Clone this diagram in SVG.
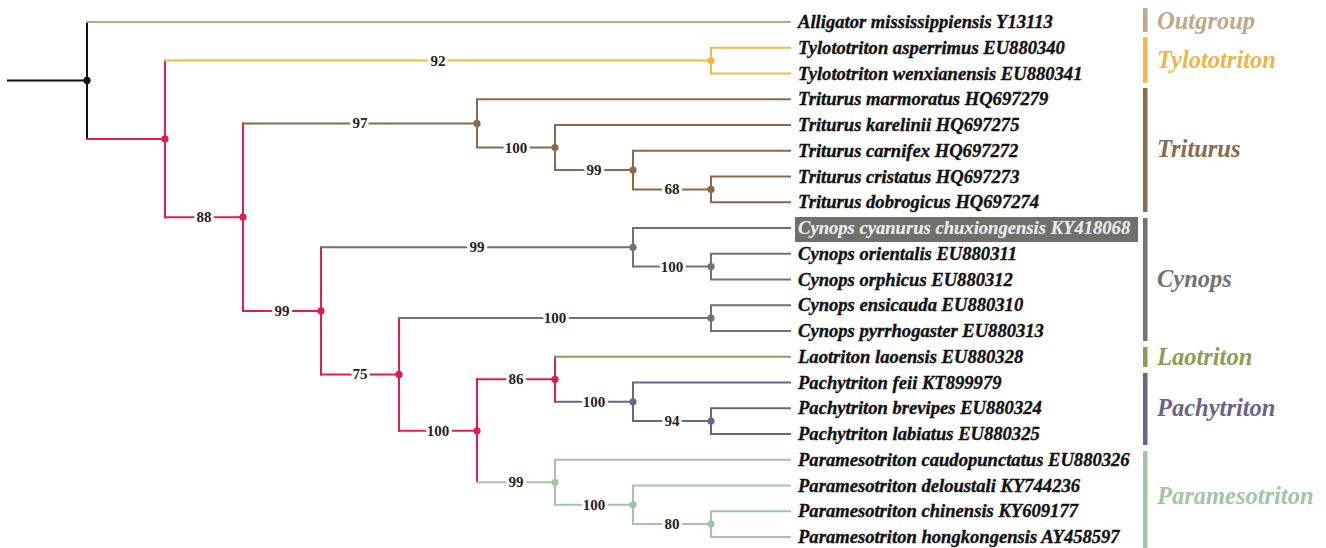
<svg xmlns="http://www.w3.org/2000/svg" width="1326" height="548" viewBox="0 0 1326 548">
<style>
.ln{fill:none;stroke-width:2;stroke-linecap:square}
.k{stroke:#111111}.og{stroke:#c4a788}.ty{stroke:#f0b949}.rd{stroke:#dc1f50}.tr{stroke:#8a6a4c}.cy{stroke:#727270}.la{stroke:#8c9b57}.pa{stroke:#6b6486}.pm{stroke:#a2c6a3}
.dk{fill:#111111}.dty{fill:#f0b949}.drd{fill:#dc1f50}.dtr{fill:#8a6a4c}.dcy{fill:#727270}.dpa{fill:#6b6486}.dpm{fill:#a2c6a3}
.leaf{font-family:"Liberation Serif","Times New Roman",serif;font-size:18.6px;font-weight:bold;font-style:italic;fill:#111111;stroke:#111111;stroke-width:0.35}
.bs{font-family:"Liberation Serif","Times New Roman",serif;font-size:15px;font-weight:bold;fill:#222222;text-anchor:middle;stroke:#ffffff;stroke-width:6;paint-order:stroke;stroke-linejoin:round}
.grp{font-family:"Liberation Serif","Times New Roman",serif;font-size:24.5px;font-weight:bold;font-style:italic}
</style>
<rect width="1326" height="548" fill="#ffffff"/>
<g id="connectors">
<path class="ln k" d="M8 80.4H87M87 22V138.9"/>
<path class="ln og" d="M87 22H790"/>
<path class="ln rd" d="M87 138.9H165M165 60.6V217.2"/>
<path class="ln ty" d="M165 60.6H711M711 47.75V73.5M711 47.75H790M711 73.5H790"/>
<path class="ln rd" d="M165 217.2H243M243 123.4V310.9"/>
<path class="ln tr" d="M243 123.4H477M477 99.25V147.5M477 99.25H790M477 147.5H555M555 125V170.1M555 125H790M555 170.1H633M633 150.75V189.4M633 150.75H790M633 189.4H711M711 176.5V202.25M711 176.5H790M711 202.25H790"/>
<path class="ln rd" d="M243 310.9H321M321 247.3V374.4"/>
<path class="ln cy" d="M321 247.3H633M633 228V266.6M633 228H790M633 266.6H711M711 253.75V279.5M711 253.75H790M711 279.5H790"/>
<path class="ln rd" d="M321 374.4H399M399 318.1V430.8"/>
<path class="ln cy" d="M399 318.1H711M711 305.25V331M711 305.25H790M711 331H790"/>
<path class="ln rd" d="M399 430.8H477M477 379.3V482.3"/>
<path class="ln rd" d="M477 379.3H555M555 356.75V401.8"/>
<path class="ln la" d="M555 356.75H790"/>
<path class="ln pa" d="M555 401.8H633M633 382.5V421.1M633 382.5H790M633 421.1H711M711 408.25V434M711 408.25H790M711 434H790"/>
<path class="ln pm" d="M477 482.3H555M555 459.75V504.8M555 459.75H790M555 504.8H633M633 485.5V524.1M633 485.5H790M633 524.1H711M711 511.25V537M711 511.25H790M711 537H790"/>
</g>
<g id="internal-nodes">
<g id="n-root"><circle class="dk" cx="87" cy="80.4" r="3.6"/></g>
<g id="n-A"><circle class="drd" cx="165" cy="138.9" r="3.6"/></g>
<g id="n-tylo"><circle class="dty" cx="711" cy="60.6" r="3.6"/><text class="bs" x="438" y="65.6">92</text></g>
<g id="n-B"><circle class="drd" cx="243" cy="217.2" r="3.6"/><text class="bs" x="204" y="222.2">88</text></g>
<g id="n-tr97"><circle class="dtr" cx="477" cy="123.4" r="3.6"/><text class="bs" x="360" y="128.4">97</text></g>
<g id="n-tr100"><circle class="dtr" cx="555" cy="147.5" r="3.6"/><text class="bs" x="516" y="152.5">100</text></g>
<g id="n-tr99"><circle class="dtr" cx="633" cy="170.1" r="3.6"/><text class="bs" x="594" y="175.1">99</text></g>
<g id="n-tr68"><circle class="dtr" cx="711" cy="189.4" r="3.6"/><text class="bs" x="672" y="194.4">68</text></g>
<g id="n-C"><circle class="drd" cx="321" cy="310.9" r="3.6"/><text class="bs" x="282" y="315.9">99</text></g>
<g id="n-cy99"><circle class="dcy" cx="633" cy="247.3" r="3.6"/><text class="bs" x="477" y="252.3">99</text></g>
<g id="n-cy100a"><circle class="dcy" cx="711" cy="266.6" r="3.6"/><text class="bs" x="672" y="271.6">100</text></g>
<g id="n-D"><circle class="drd" cx="399" cy="374.4" r="3.6"/><text class="bs" x="360" y="379.4">75</text></g>
<g id="n-cy100b"><circle class="dcy" cx="711" cy="318.1" r="3.6"/><text class="bs" x="555" y="323.1">100</text></g>
<g id="n-E"><circle class="drd" cx="477" cy="430.8" r="3.6"/><text class="bs" x="438" y="435.8">100</text></g>
<g id="n-F"><circle class="drd" cx="555" cy="379.3" r="3.6"/><text class="bs" x="516" y="384.3">86</text></g>
<g id="n-pa100"><circle class="dpa" cx="633" cy="401.8" r="3.6"/><text class="bs" x="594" y="406.8">100</text></g>
<g id="n-pa94"><circle class="dpa" cx="711" cy="421.1" r="3.6"/><text class="bs" x="672" y="426.1">94</text></g>
<g id="n-G"><circle class="dpm" cx="555" cy="482.3" r="3.6"/><text class="bs" x="516" y="487.3">99</text></g>
<g id="n-pm100"><circle class="dpm" cx="633" cy="504.8" r="3.6"/><text class="bs" x="594" y="509.8">100</text></g>
<g id="n-pm80"><circle class="dpm" cx="711" cy="524.1" r="3.6"/><text class="bs" x="672" y="529.1">80</text></g>
</g>
<g id="leaves">
<g id="leaf-0"><text class="leaf" x="798" y="28">Alligator mississippiensis Y13113</text></g>
<g id="leaf-1"><text class="leaf" x="798" y="53.75">Tylototriton asperrimus EU880340</text></g>
<g id="leaf-2"><text class="leaf" x="798" y="79.5">Tylototriton wenxianensis EU880341</text></g>
<g id="leaf-3"><text class="leaf" x="798" y="105.25">Triturus marmoratus HQ697279</text></g>
<g id="leaf-4"><text class="leaf" x="798" y="131">Triturus karelinii HQ697275</text></g>
<g id="leaf-5"><text class="leaf" x="798" y="156.75">Triturus carnifex HQ697272</text></g>
<g id="leaf-6"><text class="leaf" x="798" y="182.5">Triturus cristatus HQ697273</text></g>
<g id="leaf-7"><text class="leaf" x="798" y="208.25">Triturus dobrogicus HQ697274</text></g>
<g id="leaf-8"><rect x="795" y="217" width="343" height="25" fill="#6f706a"/><text class="leaf" x="798" y="234" style="fill:#ececec;stroke:#ececec;stroke-width:0.2">Cynops cyanurus chuxiongensis KY418068</text></g>
<g id="leaf-9"><text class="leaf" x="798" y="259.75">Cynops orientalis EU880311</text></g>
<g id="leaf-10"><text class="leaf" x="798" y="285.5">Cynops orphicus EU880312</text></g>
<g id="leaf-11"><text class="leaf" x="798" y="311.25">Cynops ensicauda EU880310</text></g>
<g id="leaf-12"><text class="leaf" x="798" y="337">Cynops pyrrhogaster EU880313</text></g>
<g id="leaf-13"><text class="leaf" x="798" y="362.75">Laotriton laoensis EU880328</text></g>
<g id="leaf-14"><text class="leaf" x="798" y="388.5">Pachytriton feii KT899979</text></g>
<g id="leaf-15"><text class="leaf" x="798" y="414.25">Pachytriton brevipes EU880324</text></g>
<g id="leaf-16"><text class="leaf" x="798" y="440">Pachytriton labiatus EU880325</text></g>
<g id="leaf-17"><text class="leaf" x="798" y="465.75">Paramesotriton caudopunctatus EU880326</text></g>
<g id="leaf-18"><text class="leaf" x="798" y="491.5">Paramesotriton deloustali KY744236</text></g>
<g id="leaf-19"><text class="leaf" x="798" y="517.25">Paramesotriton chinensis KY609177</text></g>
<g id="leaf-20"><text class="leaf" x="798" y="543">Paramesotriton hongkongensis AY458597</text></g>
</g>
<g id="clades">
<g id="clade-outgroup"><rect x="1143" y="8" width="4.5" height="24" fill="#c4a788"/><text class="grp" x="1157" y="29" fill="#c4a788">Outgroup</text></g>
<g id="clade-tylototriton"><rect x="1143" y="37" width="4.5" height="46" fill="#f0b949"/><text class="grp" x="1157" y="67.5" fill="#ecb64c">Tylototriton</text></g>
<g id="clade-triturus"><rect x="1143" y="88" width="4.5" height="124" fill="#8a6a4c"/><text class="grp" x="1157" y="157" fill="#8a6a4c">Triturus</text></g>
<g id="clade-cynops"><rect x="1143" y="218" width="4.5" height="123" fill="#727270"/><text class="grp" x="1157" y="287" fill="#727270">Cynops</text></g>
<g id="clade-laotriton"><rect x="1143" y="347" width="4.5" height="20" fill="#8c9b57"/><text class="grp" x="1157" y="365" fill="#8c9b57">Laotriton</text></g>
<g id="clade-pachytriton"><rect x="1143" y="373" width="4.5" height="72" fill="#6b6486"/><text class="grp" x="1157" y="416" fill="#6b6486">Pachytriton</text></g>
<g id="clade-paramesotriton"><rect x="1143" y="451" width="4.5" height="97" fill="#a2c6a3"/><text class="grp" x="1157" y="503.5" fill="#a2c6a3">Paramesotriton</text></g>
</g>
</svg>
